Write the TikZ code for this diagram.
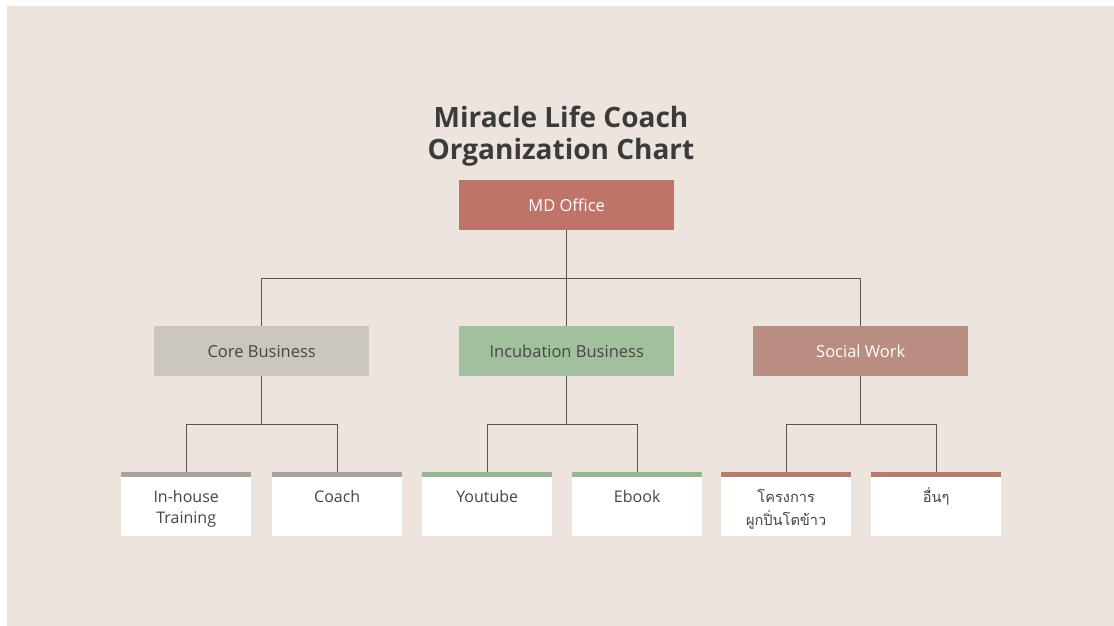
\documentclass[tikz,border=0pt]{standalone}
\usepackage{fontspec}
\setmainfont{Open Sans}
\newfontfamily\titlefont{Open Sans}
\newfontfamily\thaifont[Script=Thai]{Loma}
\definecolor{bgc}{HTML}{EDE4DE}
\definecolor{mdc}{HTML}{BE7468}
\definecolor{corec}{HTML}{CBC6BE}
\definecolor{incc}{HTML}{A3C09E}
\definecolor{socc}{HTML}{B98D80}
\definecolor{corebar}{HTML}{A8A49D}
\definecolor{incbar}{HTML}{98B592}
\definecolor{socbar}{HTML}{B47E70}
\definecolor{txt}{HTML}{454545}
\definecolor{linec}{HTML}{555555}
\begin{document}
\begin{tikzpicture}[x=1pt,y=-1pt,
  topbox/.style={fill=#1,minimum width=215pt,minimum height=50pt,inner sep=0pt,anchor=north west,font=\fontsize{16.5}{18}\selectfont},
  leafbox/.style={fill=white,minimum width=130pt,minimum height=64pt,inner sep=0pt,anchor=north west,
    path picture={\fill[#1] (path picture bounding box.north west) rectangle ([yshift=-5pt]path picture bounding box.north east);}},
  leaftext/.style={text=txt,font=\fontsize{16}{21}\selectfont,align=center,anchor=base,inner sep=0pt},
  conn/.style={draw=linec,line width=0.9pt}]
\useasboundingbox (0,0) rectangle (1114,626);
\fill[white] (0,0) rectangle (1114,626);
\fill[bgc] (7,6) rectangle (1114,626);
% title
\node[text=txt!85!black,font=\titlefont\bfseries\fontsize{28}{32}\selectfont,align=center,anchor=base] (title) at (561,159) {Miracle Life Coach\\Organization Chart};
% level 1
\node[topbox=mdc,text=white] (md) at (459,180) {MD Office};
% level 2
\node[topbox=corec,text=txt] (core) at (154,326) {Core Business};
\node[topbox=incc,text=txt] (inc) at (459,326) {Incubation Business};
\node[topbox=socc,text=white] (soc) at (753,326) {Social Work};
% leaves
\node[leafbox=corebar] (l1) at (121,472) {};
\node[leafbox=corebar] (l2) at (272,472) {};
\node[leafbox=incbar] (l3) at (422,472) {};
\node[leafbox=incbar] (l4) at (572,472) {};
\node[leafbox=socbar] (l5) at (721,472) {};
\node[leafbox=socbar] (l6) at (871,472) {};
\node[leaftext] (t1) at ([yshift=-51pt]l1.north) {In-house\\Training};
\node[leaftext] (t2) at ([yshift=-30pt]l2.north) {Coach};
\node[leaftext] (t3) at ([yshift=-30pt]l3.north) {Youtube};
\node[leaftext] (t4) at ([yshift=-30pt]l4.north) {Ebook};
\node[leaftext,font=\thaifont\fontsize{14.6}{23}\selectfont] (t5) at ([yshift=-53pt]l5.north) {โครงการ\\ผูกปิ่นโตข้าว};
\node[leaftext,font=\thaifont\fontsize{14.6}{23}\selectfont] (t6) at ([yshift=-30pt]l6.north) {อื่นๆ};
% connectors
\coordinate (j0) at ([yshift=-48pt]md.south);
\draw[conn] (md.south) -- (j0);
\draw[conn] (core.north) |- (j0) -| (soc.north);
\draw[conn] (j0) -- (inc.north);
\coordinate (j1) at ([yshift=-48pt]core.south);
\draw[conn] (core.south) -- (j1);
\draw[conn] (l1.north) |- (j1) -| (l2.north);
\coordinate (j2) at ([yshift=-48pt]inc.south);
\draw[conn] (inc.south) -- (j2);
\draw[conn] (l3.north) |- (j2) -| (l4.north);
\coordinate (j3) at ([yshift=-48pt]soc.south);
\draw[conn] (soc.south) -- (j3);
\draw[conn] (l5.north) |- (j3) -| (l6.north);
\end{tikzpicture}
\end{document}
